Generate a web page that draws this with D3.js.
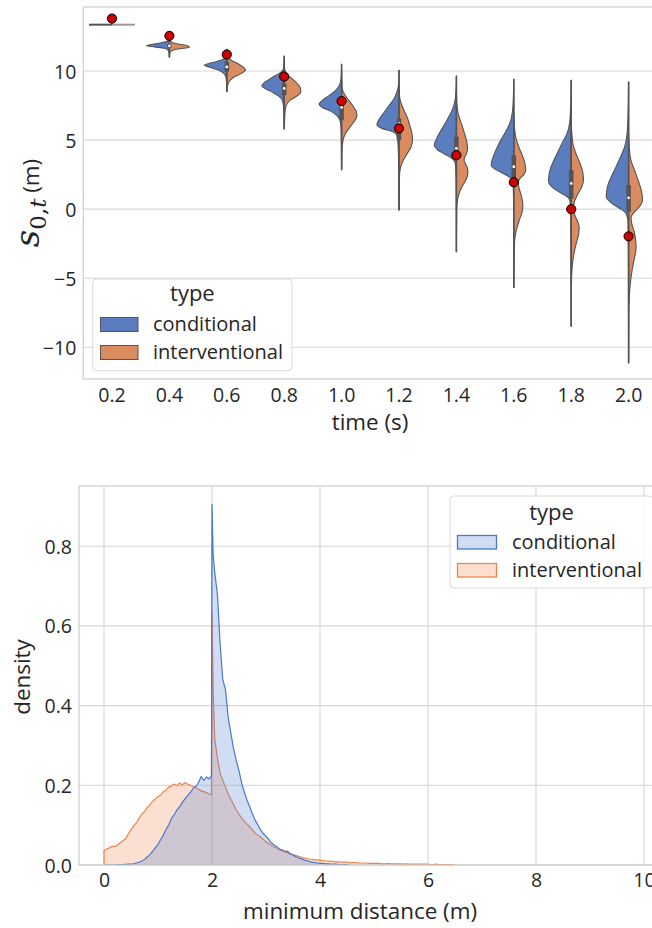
<!DOCTYPE html>
<html>
<head>
<meta charset="utf-8">
<script src="https://cdn.jsdelivr.net/npm/d3@7"></script>
<style>
  body { margin: 0; background: #fff; }
  svg text { font-family: "Open Sans", "DejaVu Sans", sans-serif; fill: #262626; }
</style>
</head>
<body>
<svg id="chart" width="652" height="928"></svg>
<script>
// ---------- data: position over time (split violins) ----------
const times = ["0.2", "0.4", "0.6", "0.8", "1.0", "1.2", "1.4", "1.6", "1.8", "2.0"];
const hueTypes = ["conditional", "interventional"];
const groundTruth = [13.8, 12.55, 11.2, 9.6, 7.83, 5.85, 3.91, 1.95, 0.0, -1.97];

// box / whisker summary of each time step (both types pooled)
const whiskerHigh = [null, 12.4, 11.6, 11.1, 10.5, 10.07, 9.66, 9.42, 9.35, 9.22];
const whiskerLow  = [null, 11.0, 8.5, 5.8, 2.85, -0.07, -3.09, -5.67, -8.48, -11.14];
const quart3      = [null, 11.95, 10.67, 9.1, 7.54, 6.57, 5.24, 3.91, 2.83, 1.74];
const quart1      = [null, 11.7, 9.95, 8.26, 6.45, 5.0, 3.55, 2.1, 0.77, -0.19];
const medians     = [null, 11.83, 10.3, 8.74, 7.37, 6.2, 4.4, 3.07, 1.86, 0.82];

// density profiles [value, density]; a single entry means all samples share one value
const condProfiles = [
  [[13.36, 23]],
  [[12.35,0],[12.2,1.5],[12.1,5],[12.0,12],[11.9,20],[11.83,23],[11.75,15],[11.65,5],[11.5,1.2],[11.3,0.3],[11.0,0]],
  [[11.6,0],[11.2,0.5],[10.9,3],[10.7,10],[10.55,18],[10.43,22.7],[10.3,18],[10.1,9],[9.9,4],[9.6,1],[9.2,0.3],[8.5,0]],
  [[11.1,0],[10.3,0.4],[10.0,2],[9.7,8],[9.4,15],[9.1,21],[8.91,22.3],[8.7,18],[8.4,10],[8.1,4],[7.8,1.5],[7.3,0.5],[6.5,0.15],[5.8,0]],
  [[10.5,0],[9.5,0.5],[9.0,2],[8.6,6],[8.2,13],[7.9,19],[7.6,22.4],[7.35,19],[7.1,11],[6.8,5],[6.5,2],[6.0,0.7],[5.0,0.3],[3.5,0.1],[2.85,0]],
  [[10.07,0],[9.0,0.5],[8.5,2],[8.0,5],[7.5,10],[7.0,15],[6.5,20],[6.09,22.1],[5.85,17],[5.6,6],[5.3,2],[4.5,0.8],[3.0,0.3],[1.0,0.1],[-0.07,0]],
  [[9.66,0],[8.5,0.5],[7.8,1.5],[7.2,4],[6.5,9],[6.0,13],[5.5,17],[5.0,20.5],[4.64,22.2],[4.3,19],[4.0,12],[3.7,5],[3.4,1.5],[3.0,0.7],[2.0,0.3],[0,0.1],[-3.09,0]],
  [[9.42,0],[8,0.5],[7,1.5],[6.2,4],[5.5,9],[5.0,13],[4.5,16.5],[4.0,19.5],[3.5,22],[3.19,22.6],[2.9,19],[2.6,11],[2.3,4],[2.0,1.2],[1.5,0.5],[0,0.2],[-5.67,0]],
  [[9.35,0],[7.5,0.5],[6.3,1.5],[5.5,4],[4.8,9],[4.2,13],[3.6,17],[3.0,20.5],[2.4,22.4],[1.98,22.7],[1.6,19],[1.2,11],[0.9,4],[0.6,1.3],[0,0.5],[-3,0.2],[-8.48,0]],
  [[9.22,0],[7,0.5],[5.5,1.5],[4.5,4],[3.8,8],[3.0,13],[2.4,17],[1.8,20.5],[1.3,22],[0.9,22.4],[0.5,18],[0.1,10],[-0.2,4],[-0.5,1.5],[-1,0.6],[-4,0.2],[-11.14,0]]
];
const intvProfiles = [
  [[13.36, 23]],
  [[12.3,0],[12.1,2],[12.0,6],[11.9,14],[11.8,19],[11.72,20],[11.65,14],[11.55,5],[11.4,1],[11.2,0.3],[11.0,0]],
  [[11.4,0],[11.0,1],[10.8,4],[10.5,12],[10.25,17],[10.07,18.7],[9.85,15],[9.6,8],[9.3,3],[9.0,1],[8.6,0.2],[8.5,0]],
  [[10.6,0],[10.2,0.4],[9.8,2],[9.5,7],[9.1,13],[8.8,16],[8.5,16.7],[8.2,13],[7.9,6],[7.5,2],[7.0,0.8],[6.0,0.2],[5.8,0]],
  [[10.0,0],[9.3,0.2],[8.8,0.5],[8.3,3],[7.9,7],[7.4,12],[7.0,15],[6.74,15.3],[6.4,13],[6.0,9],[5.5,4],[5.0,1.5],[4.5,0.6],[3.5,0.2],[2.85,0]],
  [[9.0,0],[8.2,0.5],[7.6,2.5],[7.0,6],[6.5,9],[6.0,11],[5.5,13],[5.0,13.5],[4.5,12],[4.0,8],[3.5,4],[3.0,1.5],[2.5,0.6],[1.5,0.2],[-0.07,0]],
  [[8.5,0],[7.5,0.6],[7.0,1.5],[6.5,3.5],[6.0,6],[5.5,8],[5.0,10],[4.6,11],[4.33,11.1],[4.0,10],[3.7,8],[3.55,7.7],[3.3,9],[3.0,11],[2.6,11.5],[2.2,10],[1.8,7],[1.3,3.5],[0.8,1.5],[0.3,0.6],[-1,0.2],[-3.09,0]],
  [[7,0],[6,0.6],[5.2,2],[4.5,5],[4.0,8],[3.5,10.5],[3.0,11.8],[2.83,12],[2.5,10],[2.2,6],[1.93,4.5],[1.6,5],[1.0,7.5],[0.5,8.8],[0.17,9.1],[-0.3,8],[-0.8,5.5],[-1.4,3],[-2.0,1.3],[-2.6,0.6],[-4,0.2],[-5.67,0]],
  [[6.5,0],[5.5,0.6],[4.5,2.5],[3.8,6],[3.2,9.5],[2.6,11.8],[2.1,12.3],[1.6,10.5],[1.0,6],[0.5,3],[0,2.2],[-0.5,4],[-1.0,7],[-1.3,8],[-1.8,7.5],[-2.5,5],[-3.2,2.8],[-4.0,1.2],[-4.8,0.5],[-6,0.2],[-8.48,0]],
  [[5.5,0],[4.5,0.6],[3.5,2.5],[2.8,6],[2.0,10],[1.3,13],[0.65,13.9],[0.2,11],[-0.2,6],[-0.56,2.5],[-1.0,3],[-1.6,5.5],[-2.2,7],[-2.8,7.5],[-3.5,6],[-4.3,3.8],[-5.2,2],[-6.0,1],[-7,0.4],[-8.5,0.15],[-11.14,0]]
];
const posTicks = [-10, -5, 0, 5, 10];

// ---------- data: minimum distance density ----------
const distGrid = [
  0.00,0.05,0.10,0.15,0.20,0.25,0.30,0.35,0.40,0.45,0.50,0.55,0.60,0.65,0.70,0.75,0.80,0.85,0.90,0.95,
  1.00,1.05,1.10,1.15,1.20,1.25,1.30,1.35,1.40,1.45,1.50,1.55,1.60,1.65,1.70,1.75,1.80,1.85,1.90,1.95,
  1.99,2.00,2.02,2.05,2.10,2.15,2.20,2.25,2.30,2.35,2.40,2.45,2.50,2.55,2.60,2.65,2.70,2.75,2.80,2.85,
  2.90,2.95,3.00,3.05,3.10,3.15,3.20,3.25,3.30,3.35,3.40,3.45,3.50,3.55,3.60,3.65,3.70,3.75,3.80,3.85,
  3.90,3.95,4.00,4.05,4.10,4.15,4.20,4.25,4.30,4.35,4.40,4.45,4.50,4.55,4.60,4.65,4.70,4.75,4.80,4.85,
  4.90,4.95,5.00,5.05,5.10,5.15,5.20,5.25,5.30,5.35,5.40,5.45,5.50,5.55,5.60,5.65,5.70,5.75,5.80,5.85,
  5.90,5.95,6.00,6.05,6.10,6.15,6.20,6.25,6.30,6.35,6.40,6.45,6.50
];
const condDensity = [
  0,0,0,0,0,0.0005,0.001,0.001,0.0015,0.002,0.002,0.003,0.005,0.007,0.010,0.014,0.020,0.026,0.034,0.043,
  0.052,0.064,0.075,0.090,0.101,0.117,0.126,0.138,0.146,0.157,0.166,0.174,0.182,0.192,0.197,0.207,0.222,0.212,0.221,0.216,
  0.224,0.905,0.780,0.735,0.680,0.556,0.465,0.440,0.370,0.330,0.292,0.262,0.236,0.205,0.182,0.162,0.146,0.128,0.112,0.101,
  0.088,0.079,0.072,0.064,0.056,0.050,0.046,0.040,0.038,0.034,0.035,0.028,0.025,0.021,0.018,0.016,0.013,0.011,0.009,0.007,
  0.006,0.005,0.004,0.004,0.003,0.003,0.002,0.002,0.002,0.001,0.001,0.001,0.001,0
];
const intvDensity = [
  0.036,0.040,0.043,0.047,0.046,0.050,0.056,0.061,0.066,0.078,0.088,0.098,0.106,0.117,0.128,0.134,0.144,0.151,0.160,0.166,
  0.172,0.175,0.184,0.188,0.196,0.198,0.203,0.199,0.206,0.201,0.207,0.203,0.200,0.197,0.194,0.190,0.186,0.184,0.181,0.178,
  0.176,0.632,0.450,0.318,0.268,0.230,0.212,0.196,0.178,0.165,0.152,0.138,0.128,0.117,0.110,0.102,0.096,0.088,0.080,0.075,
  0.070,0.064,0.058,0.054,0.049,0.045,0.042,0.038,0.036,0.033,0.031,0.028,0.026,0.024,0.022,0.020,0.018,0.017,0.015,0.014,
  0.013,0.013,0.012,0.011,0.010,0.010,0.009,0.009,0.008,0.008,0.007,0.007,0.007,0.006,0.006,0.006,0.005,0.005,0.005,0.005,
  0.004,0.004,0.004,0.004,0.004,0.003,0.003,0.004,0.003,0.003,0.003,0.003,0.003,0.002,0.003,0.002,0.002,0.002,0.002,0.002,
  0.002,0.002,0.002,0.001,0.001,0.002,0.001,0.001,0.001,0.001,0.001,0.001,0
];
const distXTicks = [0, 2, 4, 6, 8, 10];
const densityTicks = [0.0, 0.2, 0.4, 0.6, 0.8];

// ---------- styles ----------
const violinFill = { conditional: "#597dbf", interventional: "#da8b5f" };
const lineColor = { conditional: "#4878d0", interventional: "#ee854a" };
const gray = "#545454";
const gridColor = "#d6d6d6";
const spineColor = "#cccccc";
const tickFont = 19.5, labelFont = 22.4, legendFont = 20, legendTitleFont = 22;

const svg = d3.select("#chart");

// ================= top panel =================
const P1 = { left: 83.3, right: 657.3, top: 7, bottom: 379 };
const x1 = d3.scaleBand().domain(times).range([P1.left, P1.right]);
const y1 = d3.scaleLinear().domain([-12.3, 14.64]).range([P1.bottom, P1.top]);
const maxDens = d3.max(condProfiles.concat(intvProfiles).flat(), d => d[1]);
const wScale = d3.scaleLinear().domain([0, maxDens]).range([0, x1.bandwidth() * 0.4]);

const g1 = svg.append("g");
g1.append("g").selectAll("line").data(posTicks).join("line")
  .attr("x1", P1.left).attr("x2", P1.right)
  .attr("y1", d => y1(d)).attr("y2", d => y1(d))
  .attr("stroke", gridColor).attr("stroke-width", 1.1);

const violins = g1.append("g");
times.forEach((t, i) => {
  const cx = x1(t) + x1.bandwidth() / 2;
  [[condProfiles[i], -1, "conditional"], [intvProfiles[i], 1, "interventional"]].forEach(([prof, side, key]) => {
    if (prof.length === 1) {
      // every sample identical: a flat line across the half
      const v = prof[0][0];
      violins.append("line")
        .attr("x1", cx).attr("x2", cx + side * wScale(prof[0][1]))
        .attr("y1", y1(v)).attr("y2", y1(v))
        .attr("stroke", side < 0 ? gray : "#9c9c9c").attr("stroke-width", 2);
      return;
    }
    const area = d3.area().curve(d3.curveMonotoneY)
      .y(d => y1(d[0]))
      .x0(cx)
      .x1(d => cx + side * wScale(d[1]));
    violins.append("path").attr("d", area(prof))
      .attr("fill", violinFill[key]).attr("stroke", gray).attr("stroke-width", 1.1)
      .attr("stroke-linejoin", "round");
  });
  if (whiskerHigh[i] != null) {
    violins.append("line").attr("x1", cx).attr("x2", cx)
      .attr("y1", y1(whiskerHigh[i])).attr("y2", y1(whiskerLow[i]))
      .attr("stroke", gray).attr("stroke-width", 1.6);
    violins.append("line").attr("x1", cx).attr("x2", cx)
      .attr("y1", y1(quart3[i])).attr("y2", y1(quart1[i]))
      .attr("stroke", gray).attr("stroke-width", 4.5);
    violins.append("circle").attr("cx", cx).attr("cy", y1(medians[i])).attr("r", 1.4)
      .attr("fill", "#fff");
  }
});

g1.append("g").selectAll("circle").data(groundTruth).join("circle")
  .attr("cx", (d, i) => x1(times[i]) + x1.bandwidth() / 2)
  .attr("cy", d => y1(d))
  .attr("r", 4.6)
  .attr("fill", "#cc0000").attr("stroke", "#000").attr("stroke-width", 1);

// spines
g1.append("rect").attr("x", P1.left).attr("y", P1.top)
  .attr("width", P1.right - P1.left).attr("height", P1.bottom - P1.top)
  .attr("fill", "none").attr("stroke", spineColor).attr("stroke-width", 1.2);

// axes
const ay1 = g1.append("g").attr("transform", `translate(${P1.left},0)`)
  .call(d3.axisLeft(y1).tickValues(posTicks).tickSize(0).tickPadding(7).tickFormat(d3.format("d")));
const ax1 = g1.append("g").attr("transform", `translate(0,${P1.bottom})`)
  .call(d3.axisBottom(x1).tickSize(0).tickPadding(9));
function styleAxis(a) {
  a.select(".domain").remove();
  a.attr("font-family", null).attr("font-size", null);
  a.selectAll("text").attr("font-size", tickFont).style("fill", "#262626");
}
[ay1, ax1].forEach(styleAxis);
ay1.selectAll("text").attr("dy", "0.36em");
ax1.selectAll("text").attr("dy", "0.7em");

g1.append("text").attr("x", 370).attr("y", 429.5).attr("text-anchor", "middle")
  .attr("font-size", labelFont).text("time (s)");

const yl = g1.append("text").attr("transform", "translate(39,203) rotate(-90)")
  .attr("text-anchor", "middle");
yl.append("tspan").style("font-family", "DejaVu Serif").attr("font-style", "italic")
  .attr("font-size", 34).text("s");
yl.append("tspan").style("font-family", "DejaVu Serif").attr("font-size", 23).attr("dy", 7).text("0,");
yl.append("tspan").style("font-family", "DejaVu Serif").attr("font-style", "italic")
  .attr("font-size", 23).text("t");
yl.append("tspan").attr("font-size", labelFont).attr("dy", -7).text("\u00a0(m)");

// legend
const L1 = g1.append("g");
L1.append("rect").attr("x", 92.7).attr("y", 279).attr("width", 199.3).attr("height", 91.7)
  .attr("rx", 4).attr("fill", "#fff").attr("fill-opacity", 0.8)
  .attr("stroke", "#d9d9d9").attr("stroke-width", 1);
L1.append("text").attr("x", 192.4).attr("y", 301).attr("text-anchor", "middle")
  .attr("font-size", legendTitleFont).text("type");
hueTypes.forEach((k, i) => {
  L1.append("rect").attr("x", 100.5).attr("y", 317.5 + i * 28).attr("width", 37.5).attr("height", 14)
    .attr("fill", violinFill[k]).attr("stroke", gray).attr("stroke-width", 1);
  L1.append("text").attr("x", 153).attr("y", 330.5 + i * 28.5)
    .attr("font-size", legendFont).text(k);
});

// ================= bottom panel =================
const P2 = { left: 79, right: 671, top: 486, bottom: 865 };
const x2 = d3.scaleLinear().domain([-0.463, 10.5]).range([P2.left, P2.right]);
const y2 = d3.scaleLinear().domain([0, 0.951]).range([P2.bottom, P2.top]);

const g2 = svg.append("g");
svg.append("defs").append("clipPath").attr("id", "clip2")
  .append("rect").attr("x", P2.left).attr("y", P2.top)
  .attr("width", P2.right - P2.left).attr("height", P2.bottom - P2.top);

g2.append("g").selectAll("line").data(distXTicks).join("line")
  .attr("x1", d => x2(d)).attr("x2", d => x2(d))
  .attr("y1", P2.top).attr("y2", P2.bottom)
  .attr("stroke", gridColor).attr("stroke-width", 1.1);
g2.append("g").selectAll("line").data(densityTicks).join("line")
  .attr("x1", P2.left).attr("x2", P2.right)
  .attr("y1", d => y2(d)).attr("y2", d => y2(d))
  .attr("stroke", gridColor).attr("stroke-width", 1.1);

const plot2 = g2.append("g").attr("clip-path", "url(#clip2)");
const series = [
  { key: "interventional", vals: intvDensity },
  { key: "conditional", vals: condDensity }
];
series.forEach(s => {
  const pts = s.vals.map((v, i) => [distGrid[i], v]);
  const area = d3.area().x(d => x2(d[0])).y0(y2(0)).y1(d => y2(d[1]));
  plot2.append("path").attr("d", area(pts))
    .attr("fill", lineColor[s.key]).attr("fill-opacity", 0.25);
  const outline = [[pts[0][0], 0], ...pts, [pts[pts.length - 1][0], 0]];
  const line = d3.line().x(d => x2(d[0])).y(d => y2(d[1]));
  plot2.append("path").attr("d", line(outline))
    .attr("fill", "none").attr("stroke", lineColor[s.key]).attr("stroke-width", 1.2)
    .attr("stroke-linejoin", "round");
});

g2.append("rect").attr("x", P2.left).attr("y", P2.top)
  .attr("width", P2.right - P2.left).attr("height", P2.bottom - P2.top)
  .attr("fill", "none").attr("stroke", spineColor).attr("stroke-width", 1.2);

const ay2 = g2.append("g").attr("transform", `translate(${P2.left},0)`)
  .call(d3.axisLeft(y2).tickValues(densityTicks).tickSize(0).tickPadding(7).tickFormat(d3.format(".1f")));
const ax2 = g2.append("g").attr("transform", `translate(0,${P2.bottom})`)
  .call(d3.axisBottom(x2).tickValues(distXTicks).tickSize(0).tickPadding(8).tickFormat(d3.format("d")));
[ay2, ax2].forEach(styleAxis);
ay2.selectAll("text").attr("dy", "0.36em");
ax2.selectAll("text").attr("dy", "0.7em");

g2.append("text").attr("x", 360).attr("y", 919).attr("text-anchor", "middle")
  .attr("font-size", labelFont).text("minimum distance (m)");
g2.append("text").attr("transform", "translate(29.5,677) rotate(-90)").attr("text-anchor", "middle")
  .attr("font-size", labelFont).text("density");

const L2 = g2.append("g");
L2.append("rect").attr("x", 450).attr("y", 496).attr("width", 203).attr("height", 92)
  .attr("rx", 4).attr("fill", "#fff").attr("fill-opacity", 0.8)
  .attr("stroke", "#d9d9d9").attr("stroke-width", 1);
L2.append("text").attr("x", 551.5).attr("y", 520).attr("text-anchor", "middle")
  .attr("font-size", legendTitleFont).text("type");
hueTypes.forEach((k, i) => {
  L2.append("rect").attr("x", 457.5).attr("y", 535.5 + i * 28).attr("width", 39).attr("height", 13.5)
    .attr("fill", lineColor[k]).attr("fill-opacity", 0.25)
    .attr("stroke", lineColor[k]).attr("stroke-width", 1.3);
  L2.append("text").attr("x", 512).attr("y", 548.5 + i * 28.5)
    .attr("font-size", legendFont).text(k);
});
</script>
</body>
</html>
